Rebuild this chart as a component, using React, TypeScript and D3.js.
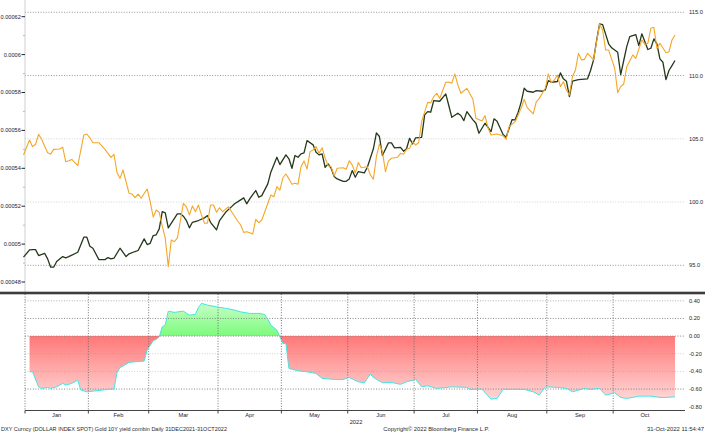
import { useEffect, useRef } from 'react';
import * as d3 from 'd3';

type Pt = [number, number];

// x = weekday offset from 31-Dec-2021 (day 0), y = value
const dxy: Pt[] = [
  [0, 95.64], [2, 96.22], [3, 96.24], [4, 96.24], [5, 95.77], [7, 95.95], [8, 95.51], [9, 94.85],
  [10, 94.85], [11, 95.3], [13, 95.69], [14, 95.59], [15, 95.69], [18, 96.03], [20, 97.22], [21, 97.22],
  [22, 96.51], [23, 96.35], [25, 95.45], [27, 95.45], [28, 95.61], [29, 95.51], [30, 95.56], [32, 96.35],
  [34, 95.69], [35, 95.91], [37, 96.09], [38, 96.17], [40, 97.09], [41, 96.64], [42, 96.74], [43, 97.35],
  [44, 97.41], [45, 97.88], [46, 99.25], [47, 99.15], [48, 97.96], [51, 99.07], [52, 99.07], [53, 98.88],
  [54, 98.54], [55, 97.96], [56, 98.4], [58, 98.54], [60, 98.75], [61, 98.93], [62, 98.4], [64, 97.8],
  [65, 98.54], [67, 99.19], [69, 99.64], [70, 99.86], [72, 100.17], [73, 100.33], [74, 99.86], [75, 100.25],
  [76, 100.59], [77, 100.91], [78, 100.38], [79, 100.51], [81, 101.44], [82, 102.36], [84, 103.54], [85, 102.96],
  [87, 103.73], [88, 103.42], [89, 102.67], [90, 103.68], [91, 103.54], [92, 103.81], [93, 103.89], [94, 104.86],
  [96, 104.52], [97, 103.94], [98, 103.73], [99, 103.81], [100, 102.75], [101, 103.02], [102, 102.67], [103, 102.02],
  [104, 101.83], [106, 101.64], [107, 101.64], [108, 101.83], [109, 102.49], [110, 101.96], [111, 102.41], [113, 102.31],
  [114, 102.75], [116, 104.21], [117, 105.47], [118, 105.18], [119, 103.68], [121, 104.68], [122, 104.68], [123, 104.28],
  [125, 104.33], [126, 104.02], [127, 104.21], [128, 105.04], [129, 104.6], [130, 105.08], [132, 105.12], [133, 106.89],
  [134, 107.15], [135, 107.1], [136, 108.02], [138, 107.97], [140, 108.55], [141, 107.63], [142, 106.7], [144, 107.02],
  [145, 106.84], [146, 106.44], [147, 107.15], [149, 106.5], [150, 106.23], [151, 105.44], [153, 106.23], [154, 105.91],
  [155, 105.57], [156, 106.58], [157, 106.39], [159, 105.34], [160, 105.12], [162, 106.52], [163, 106.5], [164, 107.1],
  [165, 107.9], [166, 109.0], [167, 108.76], [169, 108.68], [170, 108.81], [172, 108.76], [173, 108.87], [174, 109.6],
  [175, 109.47], [177, 109.53], [178, 110.21], [179, 109.74], [180, 109.55], [181, 108.34], [182, 109.55], [184, 109.68],
  [187, 109.74], [188, 110.4], [189, 111.24], [190, 112.77], [191, 114.09], [192, 114.03], [194, 112.51], [195, 112.19],
  [197, 111.84], [198, 110.08], [199, 111.19], [200, 112.29], [201, 113.08], [203, 113.24], [204, 112.37], [205, 113.3],
  [207, 112.06], [208, 112.16], [209, 112.9], [210, 112.51], [211, 111.32], [212, 111.05], [213, 109.68], [214, 110.4],
  [215, 110.79], [216, 111.19],
];

const goldYield: Pt[] = [
  [0, 0.000547], [2, 0.0005549], [3, 0.0005514], [4, 0.0005527], [5, 0.0005579], [6, 0.0005553], [8, 0.0005482], [9, 0.0005475],
  [10, 0.00055], [12, 0.0005502], [13, 0.0005511], [14, 0.0005435], [15, 0.000544], [16, 0.0005447], [18, 0.0005414], [20, 0.0005576],
  [21, 0.0005581], [22, 0.0005561], [23, 0.0005535], [25, 0.0005535], [27, 0.00055], [29, 0.0005458], [30, 0.0005474], [31, 0.0005377],
  [32, 0.0005347], [33, 0.0005391], [34, 0.0005329], [35, 0.0005268], [36, 0.0005264], [37, 0.0005245], [38, 0.0005264], [39, 0.0005242],
  [41, 0.0005291], [42, 0.0005224], [43, 0.0005143], [44, 0.000518], [45, 0.0005168], [46, 0.0005096], [47, 0.0005031], [48, 0.0004881],
  [49, 0.0005022], [50, 0.0005013], [51, 0.0005031], [53, 0.0005215], [54, 0.0005197], [55, 0.0005154], [56, 0.0005201], [57, 0.0005171],
  [58, 0.0005206], [59, 0.0005154], [60, 0.000511], [61, 0.000511], [62, 0.0005206], [63, 0.0005206], [64, 0.0005168], [65, 0.0005192],
  [66, 0.0005171], [68, 0.0005197], [69, 0.0005171], [71, 0.0005122], [72, 0.0005101], [73, 0.0005062], [74, 0.0005065], [75, 0.000506],
  [76, 0.0005053], [77, 0.0005131], [78, 0.0005113], [79, 0.0005127], [80, 0.0005171], [82, 0.0005259], [83, 0.000525], [84, 0.0005303],
  [85, 0.0005285], [86, 0.000535], [87, 0.000537], [88, 0.0005344], [89, 0.0005316], [90, 0.0005321], [91, 0.0005316], [92, 0.0005408],
  [93, 0.0005439], [94, 0.0005396], [95, 0.0005488], [96, 0.0005497], [97, 0.0005514], [98, 0.0005479], [99, 0.0005509], [100, 0.0005453],
  [101, 0.0005414], [102, 0.0005408], [103, 0.0005359], [104, 0.00054], [106, 0.0005403], [107, 0.0005395], [108, 0.000544], [109, 0.0005417],
  [110, 0.0005375], [111, 0.000543], [112, 0.0005403], [114, 0.0005408], [115, 0.0005365], [116, 0.0005342], [117, 0.0005461], [118, 0.0005528],
  [119, 0.0005488], [120, 0.0005382], [121, 0.0005439], [122, 0.0005453], [124, 0.0005458], [125, 0.0005479], [126, 0.0005474], [127, 0.00055],
  [128, 0.0005506], [129, 0.000554], [130, 0.0005523], [131, 0.0005535], [132, 0.0005646], [134, 0.0005748], [135, 0.0005746], [136, 0.0005778],
  [137, 0.0005796], [138, 0.0005769], [140, 0.0005854], [141, 0.0005855], [142, 0.0005849], [143, 0.0005898], [144, 0.000584], [145, 0.0005796],
  [147, 0.0005822], [149, 0.0005764], [150, 0.0005664], [152, 0.000565], [153, 0.0005678], [154, 0.0005614], [155, 0.0005576], [157, 0.0005581],
  [159, 0.0005572], [160, 0.0005553], [161, 0.000562], [163, 0.0005646], [164, 0.0005681], [165, 0.0005718], [166, 0.0005764], [167, 0.000572],
  [169, 0.0005687], [170, 0.0005751], [171, 0.0005769], [173, 0.0005822], [174, 0.0005898], [175, 0.0005852], [176, 0.0005866], [177, 0.0005892],
  [178, 0.0005831], [179, 0.0005857], [180, 0.0005813], [181, 0.0005787], [182, 0.0005883], [183, 0.0005919], [184, 0.0006007], [185, 0.0005972],
  [186, 0.0005975], [187, 0.0006007], [188, 0.0005989], [189, 0.0005972], [190, 0.0006068], [191, 0.0006161], [192, 0.000613], [193, 0.0006024],
  [194, 0.0006024], [196, 0.0005928], [197, 0.0005799], [198, 0.0005831], [199, 0.0005845], [200, 0.0005936], [202, 0.0005998], [203, 0.000598],
  [205, 0.0006077], [206, 0.0006054], [207, 0.000606], [208, 0.0006139], [209, 0.0006144], [210, 0.0006033], [211, 0.000606], [213, 0.000601],
  [214, 0.0006015], [215, 0.0006077], [216, 0.0006103],
];

const correlation: Pt[] = [
  [2, -0.405], [3, -0.405], [5, -0.575], [6, -0.593], [8, -0.581], [9, -0.593], [11, -0.575], [13, -0.536],
  [14, -0.555], [16, -0.536], [18, -0.499], [19, -0.612], [21, -0.631], [24, -0.62], [28, -0.604], [30, -0.601],
  [31, -0.416], [32, -0.355], [33, -0.34], [35, -0.298], [37, -0.291], [40, -0.283], [41, -0.159], [43, -0.053],
  [44, -0.037], [45, -0.008], [46, 0.105], [47, 0.125], [48, 0.283], [50, 0.269], [53, 0.283], [55, 0.238],
  [57, 0.246], [58, 0.325], [59, 0.371], [61, 0.351], [64, 0.332], [67, 0.314], [70, 0.295], [72, 0.275],
  [75, 0.257], [78, 0.257], [80, 0.246], [81, 0.189], [82, 0.125], [84, 0.068], [85, -0.008], [86, -0.083],
  [87, -0.083], [88, -0.366], [91, -0.393], [94, -0.405], [97, -0.423], [99, -0.479], [103, -0.491], [106, -0.491],
  [108, -0.468], [111, -0.518], [113, -0.529], [115, -0.431], [116, -0.468], [119, -0.529], [122, -0.525], [125, -0.547],
  [127, -0.518], [130, -0.491], [132, -0.575], [134, -0.563], [137, -0.593], [142, -0.575], [147, -0.581], [148, -0.604],
  [152, -0.601], [155, -0.714], [157, -0.706], [159, -0.604], [161, -0.604], [166, -0.604], [169, -0.631], [171, -0.669],
  [173, -0.575], [177, -0.581], [180, -0.593], [182, -0.631], [186, -0.593], [188, -0.604], [191, -0.593], [193, -0.669],
  [196, -0.642], [198, -0.695], [200, -0.706], [202, -0.695], [204, -0.68], [208, -0.68], [211, -0.695], [213, -0.695],
  [216, -0.688],
];

const monthLabels = ['Jan', 'Feb', 'Mar', 'Apr', 'May', 'Jun', 'Jul', 'Aug', 'Sep', 'Oct'];
const goldTicks = [0.00048, 0.0005, 0.00052, 0.00054, 0.00056, 0.00058, 0.0006, 0.00062];
const goldMinorTicks = [0.00049, 0.00051, 0.00053, 0.00055, 0.00057, 0.00059, 0.00061];
const dxyTicks = [115, 110, 105, 100, 95];
const corrTicks = [0.4, 0.2, 0, -0.2, -0.4, -0.6, -0.8];
const yearLabel = '2022';
const footerLeft = 'DXY Curncy (DOLLAR INDEX SPOT) Gold 10Y yield combin  Daily 31DEC2021-31OCT2022';
const footerMid = 'Copyright\u00a9 2022 Bloomberg Finance L.P.';
const footerRight = '31-Oct-2022 11:54:47';

const START = new Date(2021, 11, 31);

// count weekdays after 31-Dec-2021 up to and including d
function weekdayIndex(d: Date) {
  let n = 0;
  const t = new Date(START);
  while (t < d) {
    t.setDate(t.getDate() + 1);
    const w = t.getDay();
    if (w !== 0 && w !== 6) n++;
  }
  return n;
}

const W = 705;
const H = 433;
const FONT = "'Liberation Sans', Arial, sans-serif";

export default function App() {
  const svgRef = useRef<SVGSVGElement>(null);

  useEffect(() => {
    if (!svgRef.current) return;
    const svg = d3.select(svgRef.current);
    svg.selectAll('*').remove();

    const x = d3.scaleLinear().domain([0, 216]).range([23.5, 675]);
    const yDxy = d3.scaleLinear().domain([95, 115]).range([265.3, 12.3]);
    const yGold = d3.scaleLinear().domain([0.00048, 0.00062]).range([282, 16.7]);
    const yCorr = d3.scaleLinear().domain([-0.8, 0.4]).range([406.7, 300.8]);

    const left = 25;
    const right = 685;
    const axisY = 410.5;
    const divY = 293;

    // month boundaries in weekday units (between last weekday of prev month and first of next)
    const bounds = d3.range(0, 11).map(m => weekdayIndex(new Date(2022, m, 0)) + 0.5);

    svg.append('rect').attr('width', W).attr('height', H).attr('fill', '#fff');

    const defs = svg.append('defs');
    const z = yCorr(0);
    const red = defs.append('linearGradient').attr('id', 'redFill')
      .attr('gradientUnits', 'userSpaceOnUse')
      .attr('x1', 0).attr('x2', 0).attr('y1', z).attr('y2', yCorr(-0.7));
    red.append('stop').attr('offset', '0%').attr('stop-color', '#ff7878');
    red.append('stop').attr('offset', '100%').attr('stop-color', '#ffd4d4');
    const green = defs.append('linearGradient').attr('id', 'greenFill')
      .attr('gradientUnits', 'userSpaceOnUse')
      .attr('x1', 0).attr('x2', 0).attr('y1', z).attr('y2', yCorr(0.38));
    green.append('stop').attr('offset', '0%').attr('stop-color', '#7cfb7c');
    green.append('stop').attr('offset', '100%').attr('stop-color', '#c8ffc8');
    defs.append('clipPath').attr('id', 'clipNeg')
      .append('rect').attr('x', 0).attr('y', z).attr('width', W).attr('height', axisY - z);
    defs.append('clipPath').attr('id', 'clipPos')
      .append('rect').attr('x', 0).attr('y', divY).attr('width', W).attr('height', z - divY);

    // ---- top panel ----
    const lightDxy = new Set([105, 100]);
    svg.append('g').selectAll('line')
      .data(dxyTicks)
      .join('line')
      .attr('x1', left).attr('x2', right)
      .attr('y1', d => yDxy(d)).attr('y2', d => yDxy(d))
      .attr('stroke', d => (lightDxy.has(d) ? '#cfcfcf' : '#8a8a8a'))
      .attr('stroke-width', 0.9)
      .attr('stroke-dasharray', '1,1.6');

    svg.append('line')
      .attr('x1', left).attr('x2', left).attr('y1', 0).attr('y2', divY)
      .attr('stroke', '#cfcfcf').attr('stroke-width', 1);

    svg.append('g').selectAll('line')
      .data(goldTicks)
      .join('line')
      .attr('x1', 21.5).attr('x2', left)
      .attr('y1', d => yGold(d)).attr('y2', d => yGold(d))
      .attr('stroke', '#222').attr('stroke-width', 1);
    svg.append('g').selectAll('line')
      .data(goldMinorTicks)
      .join('line')
      .attr('x1', 23).attr('x2', left)
      .attr('y1', d => yGold(d)).attr('y2', d => yGold(d))
      .attr('stroke', '#bbb').attr('stroke-width', 1);

    svg.append('g').selectAll('text')
      .data(goldTicks)
      .join('text')
      .attr('x', 20.8).attr('y', d => yGold(d)).attr('dy', '0.35em')
      .attr('text-anchor', 'end')
      .attr('font-family', FONT).attr('font-size', 5.6).attr('fill', '#1c2233')
      .text(d => String(d));

    svg.append('g').selectAll('text')
      .data(dxyTicks)
      .join('text')
      .attr('x', 689).attr('y', d => yDxy(d)).attr('dy', '0.35em')
      .attr('font-family', FONT).attr('font-size', 5.7).attr('fill', '#1c2233')
      .text(d => d.toFixed(1));

    const lineOf = (ys: d3.ScaleLinear<number, number>) =>
      d3.line<Pt>().x(d => x(d[0])).y(d => ys(d[1])).curve(d3.curveLinear);

    svg.append('path')
      .attr('d', lineOf(yDxy)(dxy))
      .attr('fill', 'none').attr('stroke', '#24381a').attr('stroke-width', 1.3)
      .attr('stroke-linejoin', 'round');

    svg.append('path')
      .attr('d', lineOf(yGold)(goldYield))
      .attr('fill', 'none').attr('stroke', '#f3a728').attr('stroke-width', 1.1)
      .attr('stroke-linejoin', 'round');

    // ---- bottom panel ----
    const area = d3.area<Pt>().x(d => x(d[0])).y0(z).y1(d => yCorr(d[1]));
    svg.append('path').attr('d', area(correlation)).attr('fill', 'url(#redFill)').attr('clip-path', 'url(#clipNeg)');
    svg.append('path').attr('d', area(correlation)).attr('fill', 'url(#greenFill)').attr('clip-path', 'url(#clipPos)');

    const corrGridColor: Record<string, string> = {
      '0.40': '#a8a8a8', '0.20': '#7a7a7a', '0.00': '#7a7a7a',
      '-0.20': 'rgba(140,140,140,0.45)', '-0.40': 'rgba(140,140,140,0.45)', '-0.60': '#7a7a7a',
    };
    svg.append('g').selectAll('line')
      .data(corrTicks.filter(d => d > -0.8))
      .join('line')
      .attr('x1', left).attr('x2', right)
      .attr('y1', d => yCorr(d)).attr('y2', d => yCorr(d))
      .attr('stroke', d => corrGridColor[d.toFixed(2)])
      .attr('stroke-width', 0.9)
      .attr('stroke-dasharray', '1,1.6');

    svg.append('g').selectAll('line')
      .data(bounds.slice(0, 10))
      .join('line')
      .attr('x1', d => x(d)).attr('x2', d => x(d))
      .attr('y1', divY + 1).attr('y2', axisY)
      .attr('stroke', '#666').attr('stroke-width', 0.9)
      .attr('stroke-dasharray', '1,1.6');

    svg.append('path')
      .attr('d', d3.line<Pt>().x(d => x(d[0])).y(d => yCorr(d[1]))(correlation))
      .attr('fill', 'none').attr('stroke', '#45e4e4').attr('stroke-width', 1);

    svg.append('line')
      .attr('x1', left).attr('x2', right).attr('y1', axisY).attr('y2', axisY)
      .attr('stroke', '#444').attr('stroke-width', 1);
    svg.append('g').selectAll('line')
      .data(bounds.slice(0, 10))
      .join('line')
      .attr('x1', d => x(d)).attr('x2', d => x(d))
      .attr('y1', axisY).attr('y2', axisY + 3)
      .attr('stroke', '#444').attr('stroke-width', 1);

    svg.append('g').selectAll('text')
      .data(corrTicks)
      .join('text')
      .attr('x', 689).attr('y', d => yCorr(d)).attr('dy', '0.35em')
      .attr('font-family', FONT).attr('font-size', 5.6).attr('fill', '#1c2233')
      .text(d => d.toFixed(2));

    svg.append('g').selectAll('text')
      .data(monthLabels)
      .join('text')
      .attr('x', (_, i) => x((bounds[i] + bounds[i + 1]) / 2))
      .attr('y', 417.3)
      .attr('text-anchor', 'middle')
      .attr('font-family', FONT).attr('font-size', 5.7).attr('fill', '#1c2233')
      .text(d => d);

    svg.append('text')
      .attr('x', 356).attr('y', 424)
      .attr('text-anchor', 'middle')
      .attr('font-family', FONT).attr('font-size', 5.7).attr('fill', '#1c2233')
      .text(yearLabel);

    // panel divider
    svg.append('rect')
      .attr('x', 0).attr('y', divY - 1.3).attr('width', W).attr('height', 2.6)
      .attr('fill', '#3c3c3c');

    // footer
    const foot = [
      { t: footerLeft, x: 1, len: 226 },
      { t: footerMid, x: 383.3, len: 106 },
      { t: footerRight, x: 647, len: 57 },
    ];
    svg.append('g').selectAll('text')
      .data(foot)
      .join('text')
      .attr('x', d => d.x).attr('y', 430.8)
      .attr('textLength', d => d.len).attr('lengthAdjust', 'spacingAndGlyphs')
      .attr('font-family', FONT).attr('font-size', 5.4).attr('fill', '#2a2a2a')
      .text(d => d.t);
  }, []);

  return (
    <svg
      ref={svgRef}
      width={W}
      height={H}
      style={{ position: 'absolute', left: 0, top: 0, display: 'block' }}
    />
  );
}
